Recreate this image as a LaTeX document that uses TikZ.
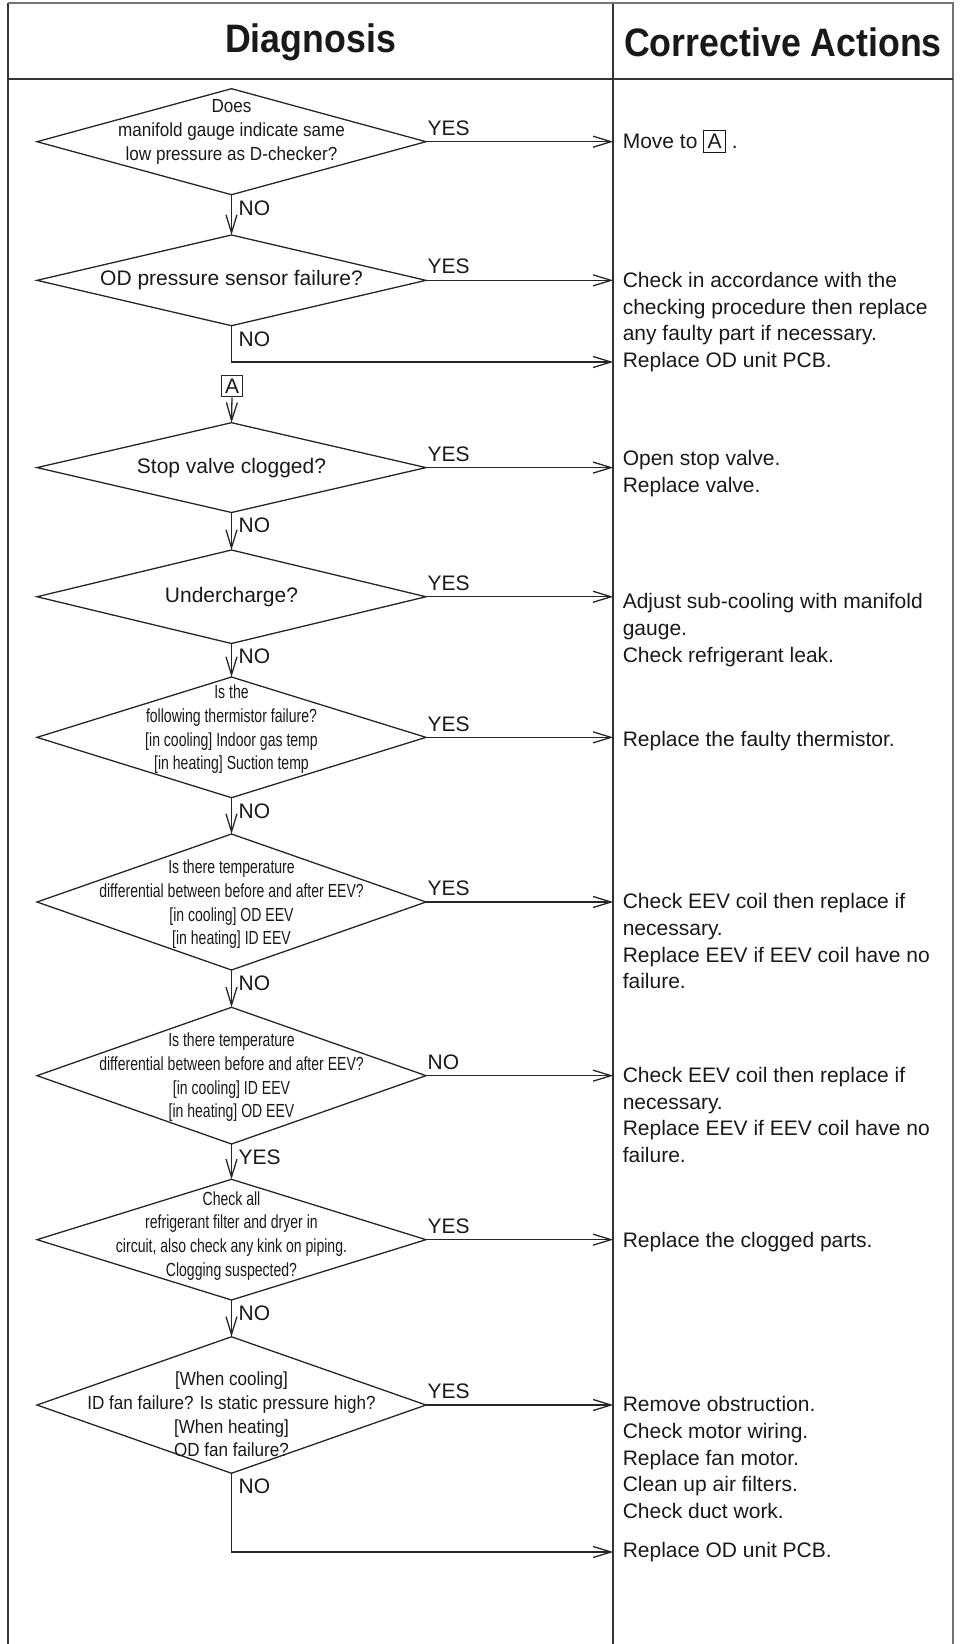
\documentclass[tikz,border=0pt]{standalone}
\usepackage{fontspec}
\setmainfont{Liberation Sans}
\newfontfamily\qsemi{Liberation Sans}[FakeStretch=0.9]
\newfontfamily\qnarrow{Liberation Sans}[FakeStretch=0.74]
\newfontfamily\headfont{Liberation Sans}[FakeStretch=0.9]
\usetikzlibrary{calc, positioning, arrows.meta, shapes.geometric}
\setlength{\fboxsep}{1.9pt}
\setlength{\fboxrule}{0.6pt}

\begin{document}
\begin{tikzpicture}[
  every node/.style={text=black!90},
  body/.style={font=\fontsize{11.95pt}{15.2pt}\selectfont},
  head/.style={font=\headfont\bfseries\fontsize{22.6pt}{26pt}\selectfont},
  arrow/.style={-{Straight Barb[length=3.6mm, width=2.2mm]}, line width=0.026cm, black!85},
  frame/.style={line width=0.04cm, black!80},
  decision/.style={diamond, draw=black!85, line width=0.026cm,
                   minimum width=7.78cm, inner sep=0pt, outer sep=0pt},
  askwide/.style={font=\qsemi\fontsize{10.8pt}{13.5pt}\selectfont, align=center, inner sep=0pt},
  asknarrow/.style={font=\qnarrow\fontsize{10.8pt}{13.5pt}\selectfont, align=center, inner sep=0pt},
  askbody/.style={body, align=center, inner sep=0pt},
  action/.style={body, anchor=west, align=left, inner xsep=0.19cm,
                 inner ysep=0pt, outer sep=0pt},
  lblright/.style={body, pos=0, anchor=south west, inner xsep=0.02cm, inner ysep=0.11cm},
  lbldown/.style={body, pos=0, anchor=north west, inner xsep=0.13cm, inner ysep=0.1cm},
  jump/.style={body, draw=black!85, line width=0.6pt, inner sep=1.9pt}
]
\useasboundingbox (0,0) rectangle (19.24,-32.88);

% --- table frame ---
\draw[frame] (0.166,-32.88) -- (0.166,-0.054);
\draw[frame] (12.266,-0.054) -- (12.266,-32.88);
\draw[frame, black!55] (0.166,-0.054) -- (19.066,-0.054) -- (19.066,-32.88);
\draw[frame] (0.166,-1.58) -- (19.066,-1.58);

\node[head] (hdiag) at (6.21,-0.84) {Diagnosis};
\node[head] (hcorr) at (15.66,-0.84) {Corrective Actions};

% --- decisions ---
\node[decision, minimum height=2.12cm] (d1) at (4.63,-2.834) {};
\node[askwide] (t1) at (4.63,-2.638) {Does\\manifold gauge indicate same\\low pressure as D-checker?};

\node[decision, minimum height=1.814cm] (d2) at (4.63,-5.607) {};
\node[askbody] (t2) at (d2) {OD pressure sensor failure?};

\node[jump] (A) at (4.64,-7.726) {A};

\node[decision, minimum height=1.796cm] (d3) at (4.63,-9.352) {};
\node[askbody] (t3) at (d3) {Stop valve clogged?};

\node[decision, minimum height=1.87cm] (d4) at (4.63,-11.935) {};
\node[askbody] (t4) at (d4) {Undercharge?};

\node[decision, minimum height=2.414cm] (d5) at (4.63,-14.747) {};
\node[asknarrow] (t5) at (4.63,-14.586) {Is the\\following thermistor failure?\\{[in cooling]} Indoor gas temp\\{[in heating]} Suction temp};

\node[decision, minimum height=2.72cm] (d6) at (4.63,-18.04) {};
\node[asknarrow] (t6) at (4.63,-18.088) {Is there temperature\\differential between before and after EEV?\\{[in cooling]} OD EEV\\{[in heating]} ID EEV};

\node[decision, minimum height=2.734cm] (d7) at (4.63,-21.513) {};
\node[asknarrow] (t7) at (4.63,-21.546) {Is there temperature\\differential between before and after EEV?\\{[in cooling]} ID EEV\\{[in heating]} OD EEV};

\node[decision, minimum height=2.414cm] (d8) at (4.63,-24.793) {};
\node[asknarrow] (t8) at (4.63,-24.718) {Check all\\refrigerant filter and dryer in\\circuit, also check any kink on piping.\\Clogging suspected?};

\node[decision, minimum height=2.73cm] (d9) at (4.63,-28.1) {};
\node[askwide] (t9) at (4.63,-28.288) {{[When cooling]}\\ID fan failure? Is static pressure high?\\{[When heating]}\\OD fan failure?};

% --- corrective actions ---
\node[action] (r1) at (12.266,-2.834) {Move to \fbox{A} .};
\node[action] (r2) at (12.266,-6.174) {Check in accordance with the\\checking procedure then replace\\any faulty part if necessary.};
\node[action] (r2b) at (12.266,-7.24) {Replace OD unit PCB.};
\node[action] (r3) at (12.266,-9.468) {Open stop valve.\\Replace valve.};
\node[action] (r4) at (12.266,-12.604) {Adjust sub-cooling with manifold\\gauge.\\Check refrigerant leak.};
\node[action] (r5) at (12.266,-14.82) {Replace the faulty thermistor.};
\node[action] (r6) at (12.266,-18.824) {Check EEV coil then replace if\\necessary.\\Replace EEV if EEV coil have no\\failure.};
\node[action] (r7) at (12.266,-22.298) {Check EEV coil then replace if\\necessary.\\Replace EEV if EEV coil have no\\failure.};
\node[action] (r8) at (12.266,-24.84) {Replace the clogged parts.};
\node[action] (r9) at (12.266,-29.154) {Remove obstruction.\\Check motor wiring.\\Replace fan motor.\\Clean up air filters.\\Check duct work.};
\node[action] (r9b) at (12.266,-31.04) {Replace OD unit PCB.};

% --- down the chart ---
\draw[arrow] (d1.south) -- node[lbldown] {NO} (d2.north);
\draw[arrow] (d2.south) |- node[lbldown] {NO} (r2b.west);
\draw[arrow] (A.south) -- (d3.north);
\draw[arrow] (d3.south) -- node[lbldown] {NO} (d4.north);
\draw[arrow] (d4.south) -- node[lbldown] {NO} (d5.north);
\draw[arrow] (d5.south) -- node[lbldown] {NO} (d6.north);
\draw[arrow] (d6.south) -- node[lbldown] {NO} (d7.north);
\draw[arrow] (d7.south) -- node[lbldown] {YES} (d8.north);
\draw[arrow] (d8.south) -- node[lbldown] {NO} (d9.north);
\draw[arrow] (d9.south) |- node[lbldown] {NO} (r9b.west);

% --- across to the actions ---
\draw[arrow] (d1.east) -- node[lblright] {YES} (d1.east -| r1.west);
\draw[arrow] (d2.east) -- node[lblright] {YES} (d2.east -| r2.west);
\draw[arrow] (d3.east) -- node[lblright] {YES} (d3.east -| r3.west);
\draw[arrow] (d4.east) -- node[lblright] {YES} (d4.east -| r4.west);
\draw[arrow] (d5.east) -- node[lblright] {YES} (d5.east -| r5.west);
\draw[arrow] (d6.east) -- node[lblright] {YES} (d6.east -| r6.west);
\draw[arrow] (d7.east) -- node[lblright] {NO} (d7.east -| r7.west);
\draw[arrow] (d8.east) -- node[lblright] {YES} (d8.east -| r8.west);
\draw[arrow] (d9.east) -- node[lblright] {YES} (d9.east -| r9.west);

\end{tikzpicture}
\end{document}
